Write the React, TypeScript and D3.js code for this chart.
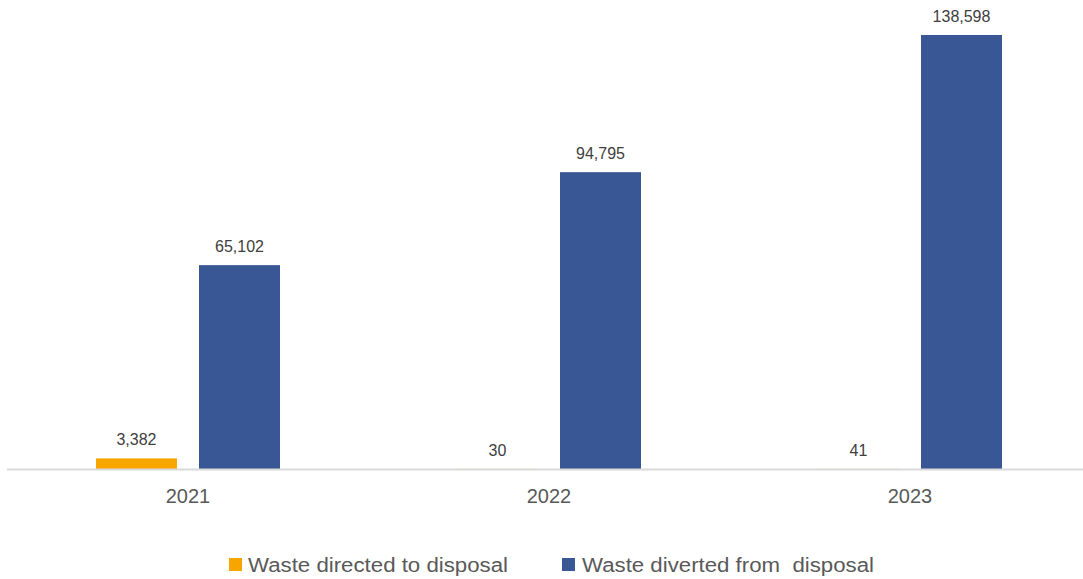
import React from "react";
import * as d3 from "d3";

// Waste data by reporting year (tonnes)
const years = ["2021", "2022", "2023"];
const seriesNames = ["Waste directed to disposal", "Waste diverted from  disposal"];
const directedToDisposal = [3382, 30, 41];
const divertedFromDisposal = [65102, 94795, 138598];
const seriesColors = ["#F7A600", "#3A5795"];

const WIDTH = 1083;
const HEIGHT = 579;

export default function App() {
  const baseline = 469;
  const x0 = d3.scaleBand<string>().domain(years).range([7.5, 1090.5]).paddingInner(0).paddingOuter(0);
  const x1 = d3
    .scaleBand<number>()
    .domain([0, 1])
    .range([88.5, 272.5])
    .paddingInner(22 / 103)
    .paddingOuter(0);
  const y = d3.scaleLinear().domain([0, 140000]).range([baseline, 30.6]);
  const fmt = d3.format(",");
  const series = [directedToDisposal, divertedFromDisposal];

  const legendItems = [
    { x: 229, textX: 248, len: 260 },
    { x: 562, textX: 582, len: 292 },
  ];

  return (
    <svg
      width={WIDTH}
      height={HEIGHT}
      style={{ position: "absolute", left: 0, top: 0, background: "#fff" }}
      fontFamily="'Liberation Sans', Arial, sans-serif"
    >
      {years.map((yr, i) => {
        const gx = x0(yr)!;
        return (
          <g key={yr}>
            {series.map((vals, s) => {
              const v = vals[i];
              const bx = gx + x1(s)!;
              const top = y(v);
              return (
                <g key={s}>
                  <rect
                    x={bx}
                    y={top}
                    width={x1.bandwidth()}
                    height={baseline - top}
                    fill={seriesColors[s]}
                  />
                  <text
                    x={bx + x1.bandwidth() / 2}
                    y={top - 13}
                    textAnchor="middle"
                    fontSize={16}
                    fill="#404040"
                  >
                    {fmt(v)}
                  </text>
                </g>
              );
            })}
            <text
              x={gx + x0.bandwidth() / 2}
              y={503}
              textAnchor="middle"
              fontSize={20}
              fill="#595959"
            >
              {yr}
            </text>
          </g>
        );
      })}
      <line x1={7} x2={WIDTH} y1={baseline + 0.5} y2={baseline + 0.5} stroke="#D9D9D9" strokeWidth={2} />
      {seriesNames.map((name, s) => (
        <g key={name}>
          <rect x={legendItems[s].x} y={558} width={13} height={13} fill={seriesColors[s]} />
          <text
            x={legendItems[s].textX}
            y={572}
            fontSize={20}
            fill="#595959"
            textLength={legendItems[s].len}
            lengthAdjust="spacingAndGlyphs"
            style={{ whiteSpace: "pre" }}
          >
            {name}
          </text>
        </g>
      ))}
    </svg>
  );
}
